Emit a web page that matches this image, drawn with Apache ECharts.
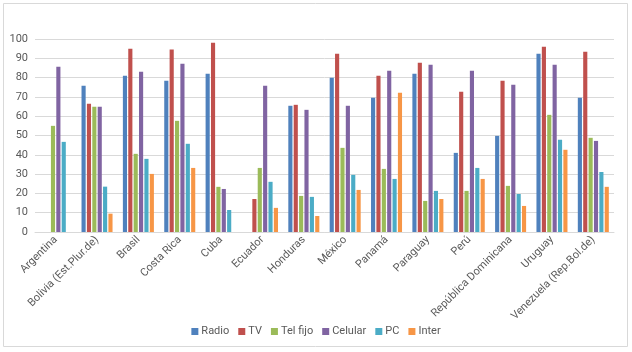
<!DOCTYPE html>
<html>
<head>
<meta charset="utf-8">
<script src="https://cdn.jsdelivr.net/npm/echarts@6/dist/echarts.min.js"></script>
<style>
  html, body { margin: 0; padding: 0; background: #fff; }
  #chart { width: 632px; height: 352px; }
</style>
</head>
<body>
<div id="chart"></div>
<script>
let countries = ['Argentina', 'Bolivia (Est.Plur.de)', 'Brasil', 'Costa Rica', 'Cuba', 'Ecuador', 'Honduras',
    'México', 'Panamá', 'Paraguay', 'Perú', 'República Dominicana', 'Uruguay', 'Venezuela (Rep.Bol.de)'];

let radio   = [null, 75.8, 81.0, 78.4, 82.0, null, 65.4, 79.9, 69.6, 82.0, 41.0, 49.8, 92.4, 69.6];
let tv      = [null, 66.4, 95.0, 94.5, 98.1, 17.1, 65.9, 92.4, 81.0, 87.7, 72.7, 78.4, 96.0, 93.4];
let telFijo = [55.0, 64.9, 40.5, 57.6, 23.4, 33.2, 18.7, 43.6, 32.7, 16.1, 21.3, 23.9, 60.7, 48.8];
let celular = [85.6, 64.9, 83.0, 87.2, 22.3, 75.8, 63.3, 65.4, 83.6, 86.7, 83.6, 76.3, 86.7, 47.2];
let pc      = [46.7, 23.5, 37.9, 45.7, 11.4, 26.0, 18.2, 29.6, 27.5, 21.3, 33.2, 19.7, 47.8, 31.1];
let inter   = [null, 9.5, 30.1, 33.2, null, 12.5, 8.3, 21.8, 72.1, 17.1, 27.5, 13.5, 42.6, 23.4];

let seriesNames = ['Radio', 'TV', 'Tel fijo', 'Celular', 'PC', 'Inter'];
let seriesData = [radio, tv, telFijo, celular, pc, inter];
let colors = ['#4F81BD', '#C0504D', '#9BBB59', '#8064A2', '#4BACC6', '#F79646'];

let chart = echarts.init(document.getElementById('chart'));

let series = seriesNames.map(function (name, i) {
    return {
        name: name,
        type: 'bar',
        data: seriesData[i],
        barGap: '30%',
        barCategoryGap: '25%',
        itemStyle: { color: colors[i] }
    };
});

chart.setOption({
    animation: false,
    textStyle: { fontFamily: 'Roboto' },
    color: colors,
    graphic: [{
        type: 'rect',
        shape: { x: 3.5, y: 3.5, width: 624, height: 343 },
        style: { fill: 'none', stroke: '#d9d9d9', lineWidth: 1 },
        silent: true
    }],
    grid: { left: 35, right: 18, top: 39, bottom: 120 },
    legend: {
        bottom: 17,
        left: 'center',
        top: 321,
        itemWidth: 7,
        itemHeight: 7,
        itemGap: 9,
        icon: 'rect',
        textStyle: { fontSize: 11, color: '#595959', padding: [0, 0, 0, -2] },
        data: seriesNames
    },
    xAxis: {
        type: 'category',
        data: countries,
        axisLine: { lineStyle: { color: '#d9d9d9' } },
        axisTick: { show: false },
        axisLabel: {
            interval: 0,
            rotate: 45,
            fontSize: 11,
            color: '#595959',
            margin: 6
        }
    },
    yAxis: {
        type: 'value',
        min: 0,
        max: 100,
        interval: 10,
        axisLine: { show: false },
        axisTick: { show: false },
        splitLine: { lineStyle: { color: '#d9d9d9' } },
        axisLabel: { fontSize: 11, color: '#595959', margin: 7 }
    },
    series: series
});
</script>
</body>
</html>
